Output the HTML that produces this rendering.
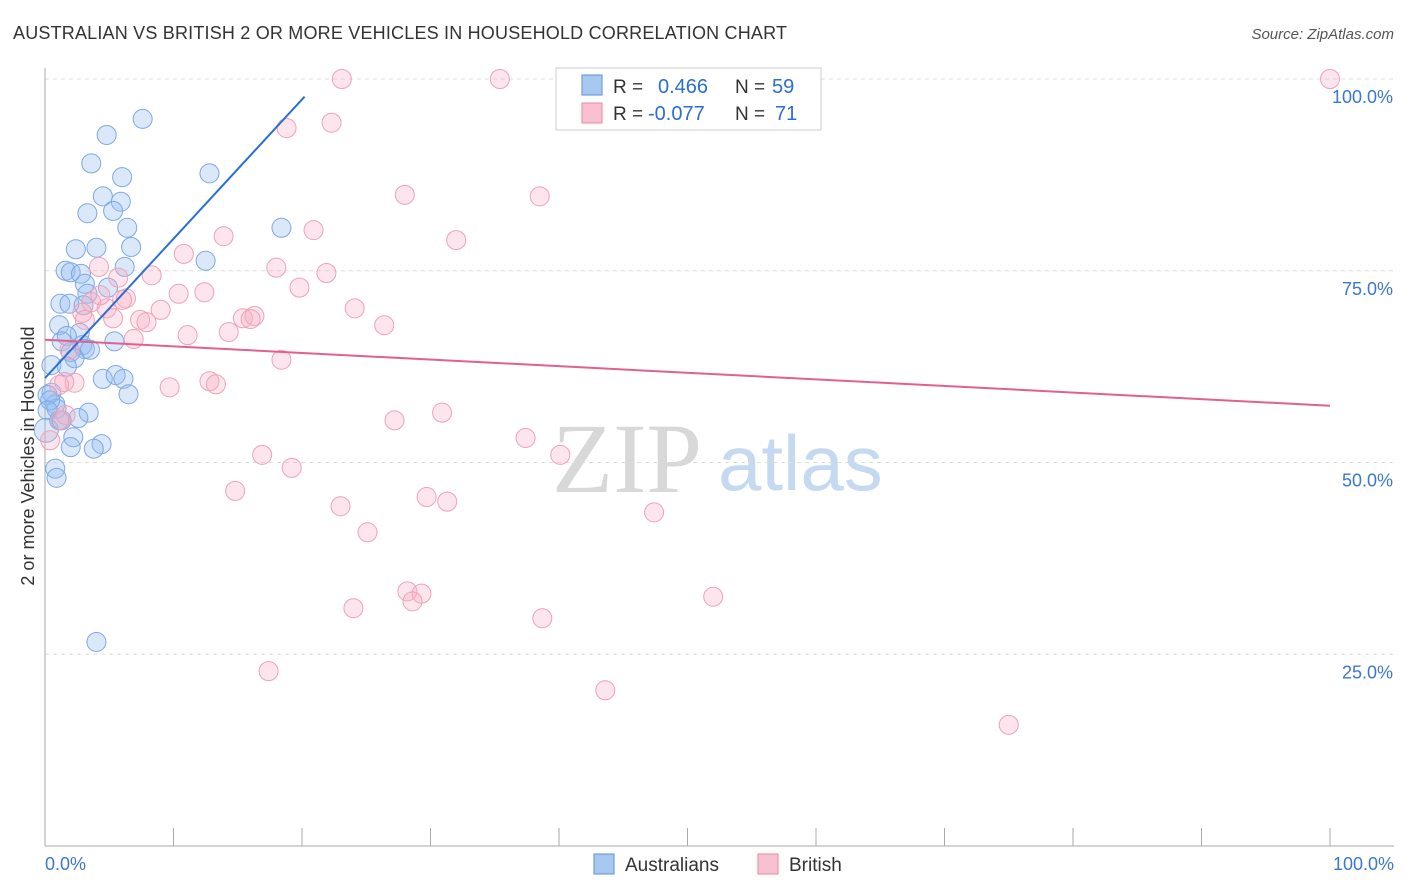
<!DOCTYPE html>
<html><head><meta charset="utf-8"><style>
body{margin:0;background:#fff;font-family:"Liberation Sans",sans-serif;}
svg{display:block}
</style></head><body>
<svg id="chart" width="1406" height="892">
<text x="13" y="39" font-size="18" fill="#333" textLength="774">AUSTRALIAN VS BRITISH 2 OR MORE VEHICLES IN HOUSEHOLD CORRELATION CHART</text>
<text x="1394" y="39" font-size="15" fill="#555" font-style="italic" text-anchor="end">Source: ZipAtlas.com</text>
<g>
<text x="552" y="492" font-size="100" font-family="Liberation Serif,serif" fill="#d8d8d8">ZIP</text>
<text x="718" y="490" font-size="78" fill="#c5d9f0">atlas</text>
</g>
<g id="grid"></g>
<g id="marks"></g>
<text transform="translate(34,456) rotate(-90)" font-size="18" fill="#333" text-anchor="middle">2 or more Vehicles in Household</text>
<g>
<rect x="556" y="68" width="265" height="62" fill="#fff" stroke="#ccc"/>
<rect x="582" y="75" width="20" height="20" fill="#a9c8f0" stroke="#5b8fd8"/>
<text x="613" y="93" font-size="19" fill="#333">R = </text><text x="658" y="93" font-size="20" fill="#2a6fcf">0.466</text>
<text x="735" y="93" font-size="19" fill="#333">N = </text><text x="772" y="93" font-size="20" fill="#2a6fcf">59</text>
<rect x="582" y="103" width="20" height="20" fill="#f8c0d0" stroke="#e88aa5"/>
<text x="613" y="120" font-size="19" fill="#333">R = </text><text x="648" y="120" font-size="20" fill="#2a6fcf">-0.077</text>
<text x="735" y="120" font-size="19" fill="#333">N = </text><text x="775" y="120" font-size="20" fill="#2a6fcf">71</text>
</g>
<g>
<rect x="594" y="854" width="20" height="20" fill="#a9c8f0" stroke="#5b8fd8"/>
<text x="625" y="871" font-size="19" fill="#333">Australians</text>
<rect x="758" y="854" width="20" height="20" fill="#f8c0d0" stroke="#e88aa5"/>
<text x="789" y="871" font-size="19" fill="#333">British</text>
</g>
<text x="45" y="870" font-size="18" fill="#3a78d0">0.0%</text>
<text x="1394" y="870" font-size="18" fill="#3a78d0" text-anchor="end">100.0%</text>
</svg>
<script>
const blueX=[7.6,4.8,3.6,12.8,6.0,4.5,5.9,3.3,5.3,6.4,18.4,2.4,4.0,6.7,12.5,6.2,1.6,2.0,2.8,3.1,4.9,3.3,1.2,1.9,3.0,1.1,2.7,1.7,1.3,5.4,2.9,2.0,3.1,2.3,0.5,1.7,4.5,5.5,6.1,0.5,6.5,0.8,3.4,0.9,2.6,1.1,2.2,4.4,3.8,2.0,0.8,0.9,4.0,0.2,0.4,0.2,0.1,1.3,3.5];
const blueY=[94.8,92.7,89.0,87.7,87.2,84.7,84.0,82.5,82.8,80.6,80.6,77.8,78.0,78.1,76.3,75.5,75.0,74.8,74.6,73.3,72.8,72.0,70.7,70.7,70.5,67.9,66.9,66.5,65.8,65.8,65.3,64.4,64.8,63.6,62.7,62.5,60.9,61.4,60.9,59.1,58.9,57.6,56.5,57.0,55.8,55.5,53.3,52.4,51.8,52.0,49.2,48.0,26.6,58.8,58.1,56.8,54.2,55.5,64.7];
const pinkX=[23.1,35.4,49.8,100,18.8,22.3,28.0,38.5,13.9,20.9,32.0,10.8,4.2,18.0,21.9,8.3,5.7,19.8,10.4,12.4,6.3,3.6,2.9,9.0,4.8,24.1,15.4,16.3,7.4,7.9,5.3,16.0,26.4,14.3,11.1,6.9,18.4,2.3,1.1,1.5,9.7,12.8,13.3,27.2,30.9,37.4,40.1,16.9,19.2,14.8,29.7,31.3,23.0,25.1,47.4,28.2,29.3,28.6,24.0,52.0,38.7,17.4,43.6,75.0,1.2,0.4,1.6,1.9,3.1,6.0,4.3];
const pinkY=[100,100,100,100,93.6,94.3,84.9,84.7,79.5,80.3,79.0,77.2,75.5,75.4,74.7,74.4,74.1,72.8,72.0,72.2,71.4,70.9,69.5,69.9,70.1,70.1,68.8,69.1,68.6,68.3,68.8,68.7,67.9,67.0,66.6,66.1,63.4,60.4,60.1,60.5,59.8,60.6,60.2,55.5,56.5,53.2,51.0,51.0,49.3,46.3,45.5,44.9,44.3,40.9,43.5,33.2,32.9,31.9,31.0,32.5,29.7,22.8,20.3,15.8,55.5,52.9,56.2,64.7,68.6,71.2,71.8];
const yTicks=[25,50,75,100];
const yTickLabels=["25.0%","50.0%","75.0%","100.0%"];
const blueTrend=[0,61.0,20.2,97.7];
const pinkTrend=[0,66.0,100,57.4];
const NS="http://www.w3.org/2000/svg";
const sx=v=>45+v*12.85, sy=v=>846-v*7.67;
function mk(t,a,p){const e=document.createElementNS(NS,t);for(const k in a)e.setAttribute(k,a[k]);p.appendChild(e);return e;}
const grid=document.getElementById('grid'), marks=document.getElementById('marks'), svg=document.getElementById('chart');
yTicks.forEach((v,i)=>{
 const l=mk('line',{x1:45,x2:1394,y1:sy(v),y2:sy(v),stroke:'#ddd','stroke-dasharray':'4,4'},grid);
 
 
 const t=mk('text',{x:1393,y:sy(v)+24,'font-size':18,fill:'#3a78d0','text-anchor':'end'},svg);
 t.textContent=yTickLabels[i];
 
 
});
const ax=mk('line',{x1:45,x2:45,y1:68,y2:846,stroke:'#aaa'},grid);


const bx=mk('line',{x1:45,x2:1394,y1:846,y2:846,stroke:'#aaa'},grid);


for(let i=1;i<=10;i++){const t=mk('line',{x1:sx(i*10),x2:sx(i*10),y1:828,y2:846,stroke:'#aaa'},grid);
 
 }
blueX.forEach((x,i)=>{const c=mk('circle',{cx:sx(x),cy:sy(blueY[i]),r:x<0.15?12:9.5,fill:'rgba(150,190,240,0.35)',stroke:'#7ea8e4','stroke-width':1},marks);
 
 });
pinkX.forEach((x,i)=>{const c=mk('circle',{cx:sx(x),cy:sy(pinkY[i]),r:9.5,fill:'rgba(245,175,198,0.33)',stroke:'#eea2b8','stroke-width':1},marks);
 
 });
const bl=mk('line',{x1:sx(blueTrend[0]),y1:sy(blueTrend[1]),x2:sx(blueTrend[2]),y2:sy(blueTrend[3]),stroke:'#2a6fd6','stroke-width':2},marks);


const pl=mk('line',{x1:sx(pinkTrend[0]),y1:sy(pinkTrend[1]),x2:sx(pinkTrend[2]),y2:sy(pinkTrend[3]),stroke:'#e4608c','stroke-width':2},marks);


</script>
</body></html>
